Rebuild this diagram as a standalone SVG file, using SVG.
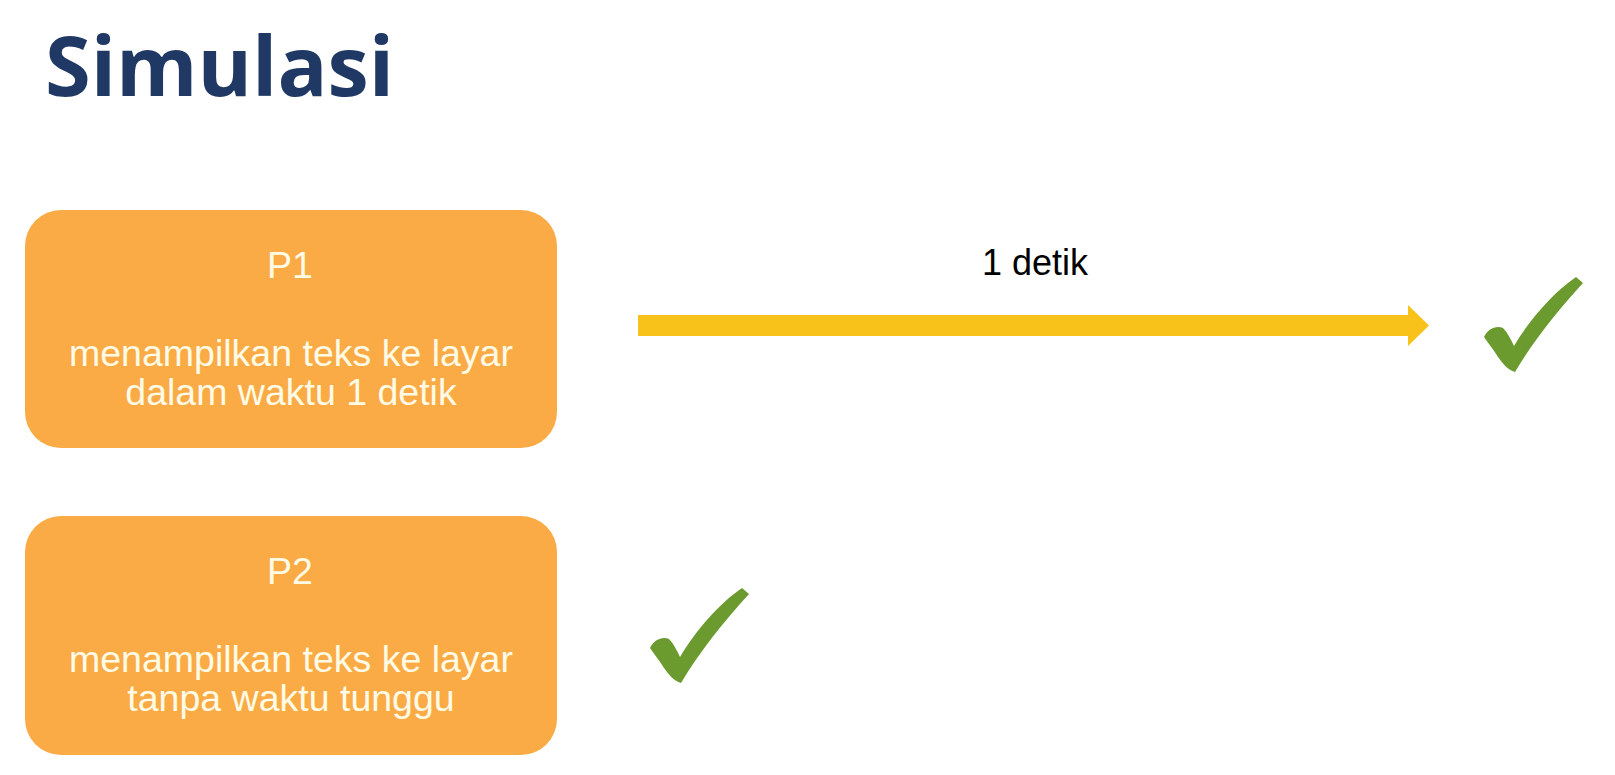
<svg xmlns="http://www.w3.org/2000/svg" width="1615" height="775" viewBox="0 0 1615 775">
  <style>
    .title { font-family: "Open Sans", "Liberation Sans", sans-serif; font-weight: 700; font-size: 83px; fill: #1f3864; }
    .box { fill: #fbab45; }
    .bt { font-family: "Liberation Sans", Arial, sans-serif; font-size: 37.5px; fill: #fffbe6; text-anchor: middle; }
    .lbl { font-family: "Liberation Sans", Arial, sans-serif; font-size: 36px; fill: #000000; text-anchor: middle; }
    .check { fill: #6b9a2f; }
  </style>
  <defs>
    <path id="checkShape" d="M0,60 C4,51 13,48 19,51 C24,56 27,63 30,69 C46,42 70,15 92,0 L99,6 C75,32 50,63 31,95 C24,93 19,87 14,80 C9,72 4,66 0,60 Z"/>
  </defs>
  <rect width="1615" height="775" fill="#ffffff"/>

  <text class="title" x="45" y="96">Simulasi</text>

  <g id="p1">
    <rect class="box" x="25" y="210" width="532" height="238" rx="36" ry="36"/>
    <text class="bt" x="290" y="278">P1</text>
    <text class="bt" x="291" y="366">menampilkan teks ke layar</text>
    <text class="bt" x="291" y="405">dalam waktu 1 detik</text>
  </g>

  <g id="p2">
    <rect class="box" x="25" y="516" width="532" height="239" rx="36" ry="36"/>
    <text class="bt" x="290" y="584">P2</text>
    <text class="bt" x="291" y="672">menampilkan teks ke layar</text>
    <text class="bt" x="291" y="711">tanpa waktu tunggu</text>
  </g>

  <g id="connectors">
    <polygon fill="#f8c21b" points="638,315 1408,315 1408,305 1429,325.5 1408,346 1408,336 638,336"/>
    <text class="lbl" x="1035" y="275">1 detik</text>
  </g>

  <g id="check1">
    <use href="#checkShape" class="check" transform="translate(1484,277)"/>
  </g>
  <g id="check2">
    <use href="#checkShape" class="check" transform="translate(650,588)"/>
  </g>
</svg>
